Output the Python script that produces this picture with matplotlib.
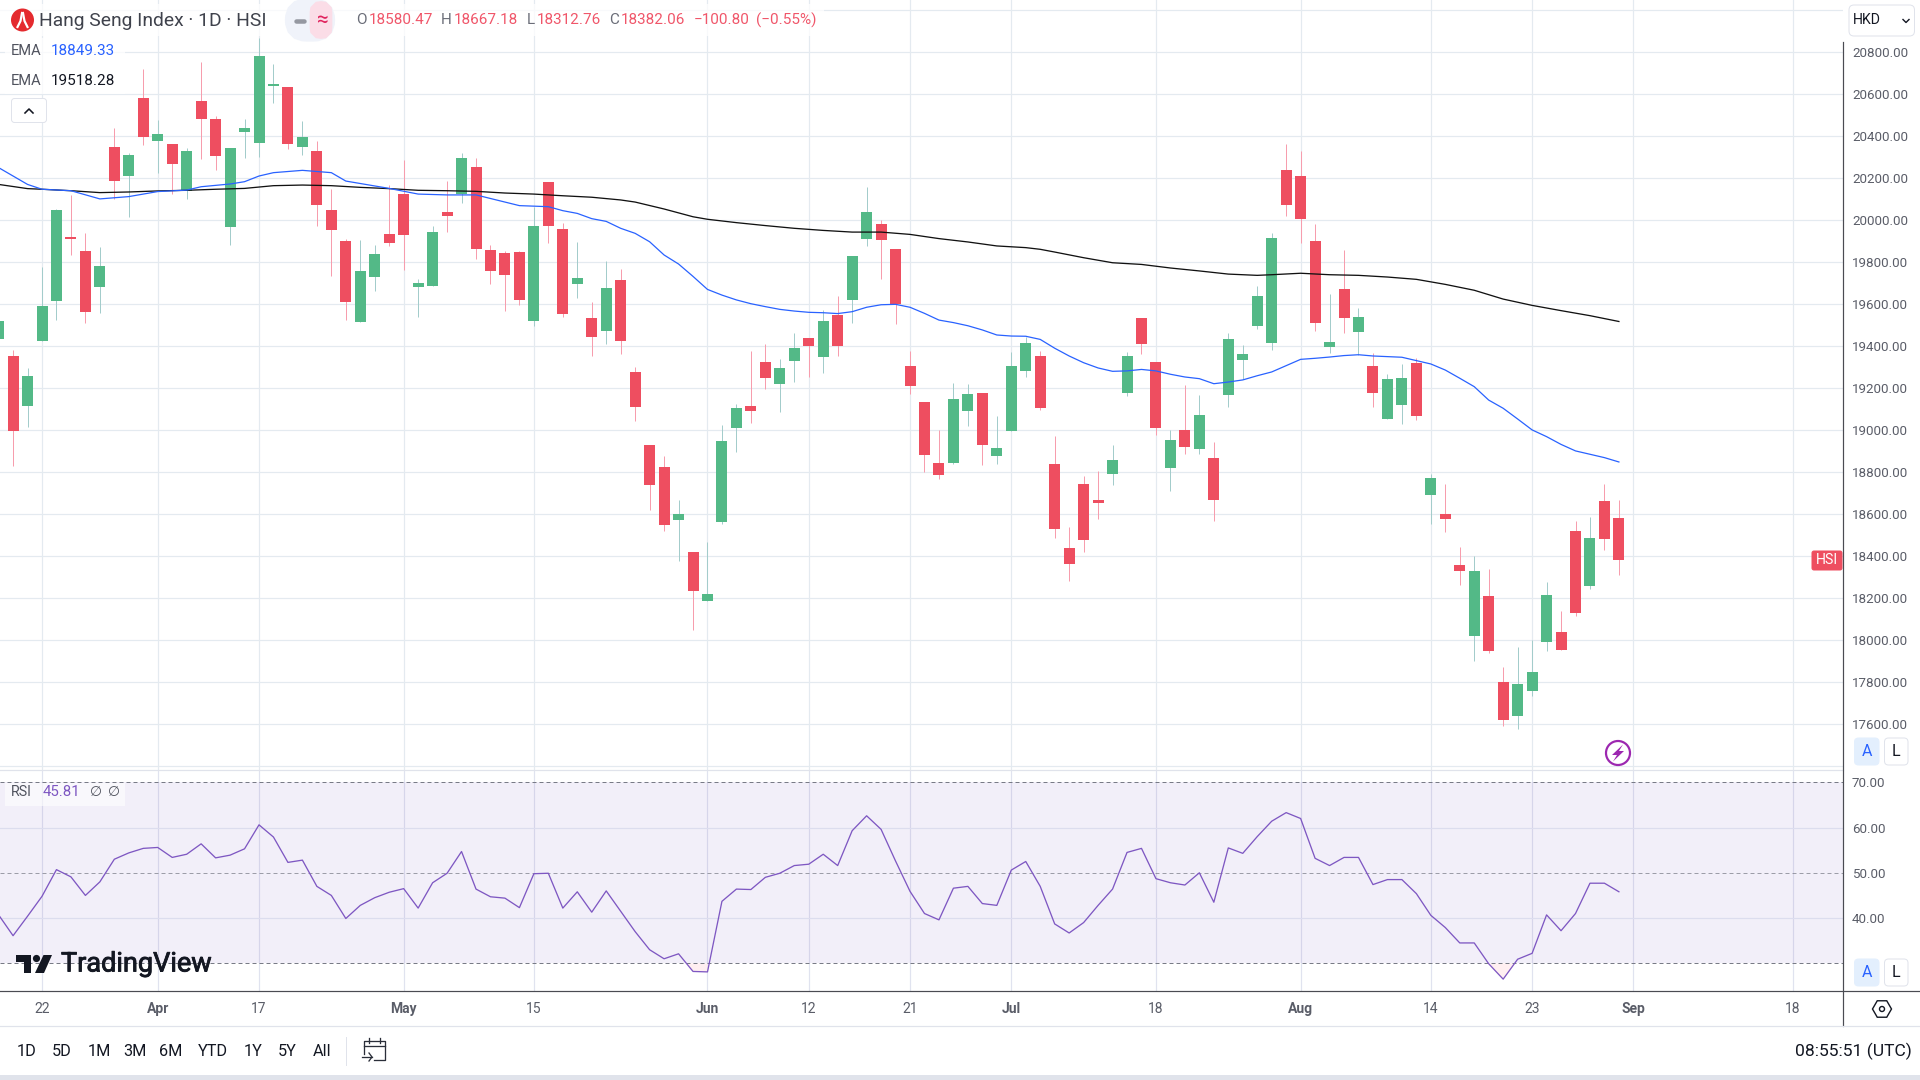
import matplotlib
matplotlib.use("Agg")  # non-interactive backend
import matplotlib.pyplot as plt
import matplotlib.patheffects as pe
import numpy as np
from matplotlib.patches import Rectangle, FancyBboxPatch, Circle, Polygon, RegularPolygon

plt.rcParams["font.family"] = ["Roboto", "DejaVu Sans"]

# ---------------------------------------------------------
# DATA
# ---------------------------------------------------------
first_bar = -3
opens = [19435, 19354, 19116, 19425, 19616, 19921, 19854, 19683, 20349, 20211, 20583, 20378, 20363, 20140, 20568, 20483,
         19967, 20421, 20368, 20640, 20635, 20349, 20330, 20049, 19902, 19516, 19730, 19935, 20125, 19683, 19689, 20040,
         20125, 20254, 19859, 19844, 19849, 19521, 20182, 19959, 19697, 19535, 19473, 19716, 19276, 18930, 18825, 18574,
         18420, 18187, 18563, 19011, 19116, 19325, 19221, 19330, 19440, 19349, 19549, 19621, 19911, 19983, 19863, 19306,
         19135, 18845, 18845, 19092, 19178, 18878, 18997, 19283, 19354, 18840, 18440, 18746, 18670, 18792, 19178, 19535,
         19325, 18821, 19002, 18911, 18868, 19168, 19335, 19497, 19416, 20240, 20211, 19902, 19397, 19673, 19468, 19306,
         19054, 19121, 19321, 18692, 18602, 18359, 18021, 18211, 17802, 17640, 17759, 17992, 18040, 18521, 18259, 18664,
         18580.47]
highs = [19521, 19383, 19297, 19779, 20054, 20121, 19940, 19873, 20440, 20319, 20721, 20478, 20363, 20343, 20754, 20497,
         20344, 20483, 20868, 20744, 20635, 20473, 20378, 20149, 19911, 19906, 19883, 20168, 20287, 19721, 19975, 20187,
         20319, 20297, 19883, 19854, 19854, 20065, 20182, 19987, 19897, 19611, 19806, 19768, 19300, 18930, 18878, 18667,
         18420, 18468, 19025, 19125, 19378, 19411, 19340, 19463, 19440, 19573, 19640, 19830, 20159, 20002, 19863, 19378,
         19135, 19002, 19225, 19221, 19178, 19068, 19373, 19446, 19378, 18973, 18540, 18783, 18806, 18930, 19375, 19535,
         19325, 19002, 19216, 19168, 18944, 19463, 19406, 19687, 19940, 20363, 20330, 19983, 19649, 19859, 19583, 19368,
         19268, 19316, 19344, 18792, 18745, 18444, 18402, 18340, 17873, 17968, 18002, 18278, 18140, 18568, 18587, 18745,
         18667.18]
lows = [19435, 18832, 19016, 19425, 19525, 19835, 19511, 19559, 20103, 20016, 20359, 20225, 20125, 20102, 20292, 20240,
        19881, 20297, 20302, 20559, 20340, 20311, 19973, 19735, 19525, 19516, 19664, 19878, 19763, 19540, 19689, 19944,
        20082, 19816, 19697, 19568, 19597, 19497, 19892, 19540, 19630, 19354, 19411, 19363, 19043, 18621, 18522, 18378,
        18050, 18187, 18553, 18897, 19035, 19197, 19087, 19230, 19254, 19273, 19354, 19511, 19878, 19721, 19506, 19173,
        18802, 18769, 18840, 19021, 18835, 18840, 18997, 19254, 19097, 18486, 18284, 18422, 18578, 18740, 19164, 19363,
        18978, 18712, 18887, 18887, 18569, 19111, 19244, 19483, 19383, 20021, 19892, 19473, 19368, 19464, 19359, 19111,
        19054, 19030, 19049, 18554, 18517, 18263, 17902, 17940, 17592, 17578, 17735, 17949, 17954, 18116, 18244, 18431,
        18312.76]
closes = [19521, 18997, 19259, 19592, 20049, 19911, 19563, 19783, 20187, 20311, 20397, 20411, 20268, 20330, 20483, 20306,
          20344, 20440, 20783, 20649, 20363, 20397, 20073, 19954, 19611, 19759, 19840, 19892, 19930, 19702, 19946, 20021,
          20297, 19863, 19759, 19740, 19620, 19973, 19973, 19554, 19725, 19444, 19678, 19425, 19110, 18740, 18550, 18602,
          18235, 18220, 18949, 19106, 19092, 19249, 19297, 19392, 19402, 19521, 19402, 19830, 20040, 19906, 19602, 19211,
          18884, 18788, 19149, 19173, 18930, 18916, 19306, 19416, 19106, 18530, 18364, 18478, 18656, 18858, 19356, 19411,
          19011, 18954, 18921, 19073, 18667, 19435, 19363, 19640, 19916, 20073, 20006, 19511, 19421, 19535, 19540, 19178,
          19244, 19249, 19068, 18773, 18578, 18330, 18330, 17949, 17621, 17792, 17849, 18216, 17954, 18130, 18487, 18483,
          18382.06]

ema_fast_x = [-3, -1, 0, 2, 4, 6, 8, 10, 11, 13, 14, 15, 16, 18, 20, 21, 24, 26, 28, 30, 33, 35, 36, 37, 38, 39, 40,
              41, 42, 43, 44, 45, 46, 47, 48, 49, 50, 51, 52, 53, 54, 55, 56, 57, 58, 59, 60, 61, 62, 63, 64, 65, 66,
              67, 68, 69, 70, 71, 72, 73, 74, 75, 76, 77, 78, 79, 80, 81, 82, 83, 84, 85, 86, 87, 88, 89, 90, 91, 92,
              93, 94, 95, 96, 97, 98, 99, 100, 101, 102, 103, 104, 105, 106, 107, 108, 109]
ema_fast = [20251, 20171, 20148, 20141, 20102, 20113, 20137, 20144, 20160, 20173, 20184, 20211, 20227, 20238, 20227,
            20187, 20152, 20125, 20121, 20121, 20070, 20065, 20046, 20033, 20008, 19995, 19962, 19938, 19898, 19835,
            19792, 19733, 19671, 19644, 19621, 19603, 19589, 19576, 19568, 19562, 19560, 19556, 19565, 19586, 19598,
            19600, 19586, 19557, 19525, 19513, 19498, 19478, 19454, 19449, 19448, 19433, 19391, 19354, 19322, 19297,
            19281, 19283, 19290, 19283, 19267, 19254, 19246, 19222, 19230, 19240, 19260, 19278, 19308, 19338, 19343,
            19349, 19356, 19360, 19354, 19351, 19348, 19332, 19316, 19287, 19248, 19208, 19144, 19105, 19054, 19002,
            18970, 18933, 18902, 18886, 18870, 18849.33]

ema_slow_x = [-3, -1, 0, 2, 4, 6, 8, 10, 12, 14, 16, 18, 20, 22, 24, 26, 28, 30, 32, 34, 36, 38, 40, 41, 43, 45, 46,
              48, 50, 52, 54, 56, 58, 60, 62, 64, 66, 68, 69, 70, 72, 74, 76, 78, 80, 82, 84, 85, 87, 89, 91, 93, 95,
              97, 99, 101, 103, 105, 107, 109]
ema_slow = [20171, 20151, 20148, 20141, 20132, 20135, 20140, 20143, 20148, 20152, 20165, 20168, 20165, 20157, 20151,
            20143, 20141, 20138, 20130, 20125, 20117, 20110, 20097, 20087, 20054, 20017, 20005, 19989, 19975, 19962,
            19952, 19944, 19944, 19933, 19913, 19897, 19878, 19870, 19862, 19849, 19822, 19798, 19790, 19773, 19759,
            19744, 19738, 19741, 19748, 19741, 19738, 19730, 19719, 19695, 19667, 19625, 19595, 19570, 19546, 19518.28]

rsi = [40.7, 36.1, 40.4, 44.8, 50.7, 49.1, 45.0, 48.0, 53.0, 54.4, 55.4, 55.6, 53.4, 54.1, 56.4, 53.3, 53.9, 55.3, 60.6,
       57.9, 52.3, 52.8, 47.0, 45.0, 39.9, 42.8, 44.5, 45.7, 46.5, 42.2, 47.8, 49.9, 54.7, 46.4, 44.7, 44.4, 42.3, 49.8,
       49.9, 42.2, 45.8, 41.3, 46.0, 41.5, 37.0, 33.0, 31.0, 32.1, 28.2, 28.1, 43.7, 46.4, 46.3, 49.0, 49.9, 51.6, 51.9,
       54.1, 51.6, 59.3, 62.6, 59.6, 52.6, 45.9, 41.0, 39.6, 46.6, 47.0, 43.2, 42.8, 50.6, 52.5, 47.0, 38.7, 36.7, 39.0,
       42.8, 46.4, 54.5, 55.4, 48.7, 47.8, 47.3, 50.0, 43.5, 55.5, 54.3, 58.0, 61.4, 63.3, 62.0, 53.2, 51.6, 53.4, 53.4,
       47.4, 48.5, 48.5, 45.4, 40.6, 37.9, 34.5, 34.5, 29.9, 26.5, 30.9, 32.2, 40.7, 37.2, 41.0, 47.7, 47.7, 45.81]

price_ticks = [17400, 17600, 17800, 18000, 18200, 18400, 18600, 18800, 19000, 19200, 19400, 19600, 19800, 20000, 20200,
               20400, 20600, 20800, 21000]
rsi_ticks = [30, 40, 50, 60, 70]
time_tick_bars = [0, 8, 15, 25, 34, 46, 53, 60, 67, 77, 87, 96, 103, 110, 121]
time_tick_labels = ["22", "Apr", "17", "May", "15", "Jun", "12", "21", "Jul", "18", "Aug", "14", "23", "Sep", "18"]
range_buttons = ["1D", "5D", "1M", "3M", "6M", "YTD", "1Y", "5Y", "All"]

UP = "#53B987"
DOWN = "#EE4E60"
UP_WICK = "#A3CCCB"
DOWN_WICK = "#F79DAD"
GRID = "#E4EAF0"
AXIS_TXT = "#5A5D68"
PURPLE = "#7E57C2"
PX = 0.72  # one pixel in points at dpi 100

W, H = 1920, 1080
AXIS_X = 1843


def to_px_bar(px):
    return (px - 42) / 14.467


def price_at(py):
    return 20800 - (py - 52.33) * 200 / 42.0


def rsi_at(py):
    return 70 - (py - 782.3) / 4.525


fig = plt.figure(figsize=(19.2, 10.8), dpi=100, facecolor="white")

# ---------------------------------------------------------
# PRICE PANE
# ---------------------------------------------------------
ax = fig.add_axes([0, (H - 770) / H, AXIS_X / W, 770 / H])
bars = np.arange(first_bar, first_bar + len(opens))
o = np.array(opens)
c = np.array(closes)
is_up = c >= o
ax.vlines(bars, lows, highs, colors=[UP_WICK if u else DOWN_WICK for u in is_up], linewidth=1 * PX, zorder=3)
ax.bar(bars, np.abs(c - o), bottom=np.minimum(o, c), width=11 / 14.467,
       color=[UP if u else DOWN for u in is_up], linewidth=0, zorder=4)
ax.plot(ema_slow_x, ema_slow, color="#111111", linewidth=1.3 * PX, zorder=5)
ax.plot(ema_fast_x, ema_fast, color="#2962FF", linewidth=1.25 * PX, zorder=5)

ax.set_xlim(to_px_bar(0), to_px_bar(AXIS_X))
ax.set_ylim(price_at(770), price_at(0))
ax.set_xticks(time_tick_bars)
ax.set_xticklabels([])
ax.yaxis.tick_right()
ax.set_yticks(price_ticks)
ax.set_yticklabels(["" if p in (17400, 21000) else f"{p:.2f}" for p in price_ticks], fontsize=9.6, color=AXIS_TXT)
ax.tick_params(length=0)
ax.tick_params(axis="y", pad=6.5)
ax.grid(True, color=GRID, linewidth=1.2 * PX, zorder=0)
ax.set_axisbelow(True)
for s in ax.spines.values():
    s.set_visible(False)

# ---------------------------------------------------------
# RSI PANE
# ---------------------------------------------------------
ax2 = fig.add_axes([0, (H - 991) / H, AXIS_X / W, (991 - 770) / H])
ax2.axhspan(30, 70, color=PURPLE, alpha=0.095, linewidth=0, zorder=1)
ax2.plot(bars, rsi, color=PURPLE, linewidth=1.3 * PX, zorder=5)
ax2.fill_between(bars, rsi, 30, where=np.array(rsi) < 30, interpolate=True, color="#FFE9EC", alpha=0.7,
                 linewidth=0, zorder=2)
for level, alpha in ((70, 1), (50, 0.7), (30, 1)):
    ax2.axhline(level, color="#787B86", alpha=alpha, linewidth=1 * PX, linestyle=(0, (4, 3)), zorder=3)
for level in (40, 60):
    ax2.axhline(level, color="#DCDDEE", linewidth=1.2 * PX, zorder=2)

ax2.set_xlim(to_px_bar(0), to_px_bar(AXIS_X))
ax2.set_ylim(rsi_at(991), rsi_at(770))
ax2.set_xticks(time_tick_bars)
ax2.set_xticklabels(time_tick_labels, fontsize=10, color=AXIS_TXT)
for lab, name in zip(ax2.get_xticklabels(), time_tick_labels):
    if not name.isdigit():
        lab.set_fontweight("bold")
ax2.yaxis.tick_right()
ax2.set_yticks(rsi_ticks)
ax2.set_yticklabels(["" if r == 30 else f"{r:.2f}" for r in rsi_ticks], fontsize=9.6, color=AXIS_TXT)
ax2.tick_params(length=0)
ax2.tick_params(axis="y", pad=6.5)
ax2.tick_params(axis="x", pad=8)
ax2.grid(True, axis="x", color="#E0E3EF", linewidth=1.2 * PX, zorder=0)
ax2.set_axisbelow(True)
for s in ax2.spines.values():
    s.set_visible(False)

# ---------------------------------------------------------
# WIDGET CHROME, in screen pixels
# ---------------------------------------------------------
ui = fig.add_axes([0, 0, 1, 1], zorder=5)
ui.set_xlim(0, W)
ui.set_ylim(H, 0)
ui.axis("off")
ui.patch.set_alpha(0)


def label(x, y, s, size=11, color="#131722", ha="left", **kw):
    return ui.text(x, y, s, fontsize=size, color=color, ha=ha, va="center", **kw)


def button(x0, y0, x1, y1, face, edge, rad=4):
    ui.add_patch(FancyBboxPatch((x0 + rad, y0 + rad), x1 - x0 - 2 * rad, y1 - y0 - 2 * rad,
                                boxstyle=f"round,pad={rad},rounding_size={rad}",
                                facecolor=face, edgecolor=edge, linewidth=1 * PX))


# axis lines
ui.plot([0, AXIS_X], [770, 770], color="#E0E3EB", linewidth=1.2 * PX)
ui.plot([0, W], [991, 991], color="#4A4B52", linewidth=1.2 * PX)
ui.plot([AXIS_X, AXIS_X], [42, 1026], color="#4A4B52", linewidth=1.2 * PX)
ui.plot([0, W], [1026, 1026], color="#E0E3EB", linewidth=1.2 * PX)
ui.add_patch(Rectangle((0, 1075), W, 5, facecolor="#E0E3EB", edgecolor="none"))

# header
ui.add_patch(Rectangle((0, 4), 824, 32, facecolor="white", edgecolor="none", alpha=0.75))
ui.add_patch(Circle((22.5, 20), 11.5, facecolor="#E42A2E", edgecolor="none"))
ui.plot([22, 20.5, 17.5], [13, 21, 27], color="white", linewidth=2.2 * PX)
ui.plot([23, 24.5, 27.5], [13, 21, 27], color="white", linewidth=2.2 * PX)
label(39, 20.5, "Hang Seng Index · 1D · HSI", size=13.9, color="#3F424C")
ui.add_patch(FancyBboxPatch((296, 9.5), 28, 21, boxstyle="round,pad=0,rounding_size=10.5",
                            facecolor="#F0F3FA", edgecolor="#F0F3FA", linewidth=16))
ui.add_patch(Rectangle((310, 9), 15, 22, facecolor="#FBDDE7", edgecolor="none"))
ui.add_patch(FancyBboxPatch((318, 9.5), 6, 21, boxstyle="round,pad=0,rounding_size=3",
                            facecolor="#FBDDE7", edgecolor="#FBDDE7", linewidth=12))
ui.plot([296, 304], [20.5, 20.5], color="#9598A1", linewidth=4.5 * PX, solid_capstyle="round")
label(322, 20.5, "≈", size=15, color="#E0245E", ha="center")

HDR_GRAY = "#6A6D78"
HDR_RED = "#F0566A"
for x, s, col in [(356, "O", HDR_GRAY), (369, "18580.47", HDR_RED), (441, "H", HDR_GRAY), (454, "18667.18", HDR_RED),
                  (527, "L", HDR_GRAY), (537, "18312.76", HDR_RED), (609, "C", HDR_GRAY), (621, "18382.06", HDR_RED),
                  (694, "−100.80", HDR_RED), (756, "(−0.55%)", HDR_RED)]:
    label(x, 20.5, s, size=11, color=col)

# EMA legend
ui.add_patch(Rectangle((5, 38), 120, 56, facecolor="white", edgecolor="none", alpha=0.75))
label(11, 50.7, "EMA", size=10.5, color="#50535E")
label(51, 50.7, "18849.33", size=11, color="#2962FF")
label(11, 80.7, "EMA", size=10.5, color="#50535E")
label(51, 80.7, "19518.28", size=11, color="#131722")
button(11.5, 98.5, 46.5, 122.5, "white", "#E0E3EB", rad=3)
ui.plot([25, 29, 33], [113, 109, 113], color="#131722", linewidth=1.6 * PX)

# currency box
button(1849, 5, 1914.5, 36, "white", "#E0E3EB", rad=5)
label(1853, 20.5, "HKD", size=10.2, color="#131722")
ui.plot([1903, 1906, 1909], [19.5, 22.5, 19.5], color="#131722", linewidth=1.4 * PX)

# last price tag
button(1812, 551, 1842, 570, DOWN, DOWN, rad=2)
label(1827, 560.5, "HSI", size=10.2, color="white", ha="center")

# lightning marker
ui.add_patch(Circle((1618, 753), 12, facecolor="white", edgecolor="#9C27B0", linewidth=2.2 * PX))
ui.add_patch(Polygon([(1623, 744.5), (1612, 755), (1617, 755), (1613, 761.5), (1624, 751), (1619, 751)],
                     closed=True, facecolor="#9C27B0", edgecolor="none"))

# auto / log buttons
for top, bottom in ((738, 765), (959, 986)):
    button(1854.5, top, 1879, bottom, "#E3EFFD", "#E3EFFD", rad=4)
    label(1866.7, (top + bottom) / 2, "A", size=11.5, color="#2962FF", ha="center")
    button(1884.5, top, 1908, bottom, "white", "#E0E3EB", rad=4)
    label(1896.3, (top + bottom) / 2, "L", size=11.5, color="#131722", ha="center")

# RSI legend
ui.add_patch(Rectangle((5, 783), 120, 23, facecolor="white", edgecolor="none", alpha=0.6))
label(11, 792, "RSI", size=10.3, color="#50535E")
label(43, 792, "45.81", size=10.8, color=PURPLE)
label(90, 792, "∅", size=10, color="#50535E")
label(108, 792, "∅", size=10, color="#50535E")

# TradingView mark
ink = "#131722"
ui.add_patch(Polygon([(15.5, 955), (31, 955), (31, 973), (23.5, 973), (23.5, 961.5), (15.5, 961.5)], closed=True,
                     facecolor=ink, edgecolor="none"))
ui.add_patch(Circle((36.5, 958.5), 3.6, facecolor=ink, edgecolor="none"))
ui.add_patch(Polygon([(43.5, 955), (52, 955), (44, 973), (35, 973)], closed=True, facecolor=ink, edgecolor="none"))
brand = label(61, 964, "TradingView", size=19.5, color=ink)
brand.set_path_effects([pe.withStroke(linewidth=0.6, foreground=ink)])

# settings icon
ui.add_patch(RegularPolygon((1882, 1009), 6, radius=9.5, orientation=np.pi / 6, facecolor="none", edgecolor="#131722",
                            linewidth=1.4 * PX))
ui.add_patch(Circle((1882, 1009), 2.5, facecolor="none", edgecolor="#131722", linewidth=1.4 * PX))

# bottom toolbar
for x, s in zip([27, 62, 99, 135, 171, 213, 253, 287, 322], range_buttons):
    label(x, 1051, s, size=11.7, color="#131722", ha="center")
ui.plot([346, 346], [1037, 1065], color="#E0E3EB", linewidth=1 * PX)
ui.plot([364, 364, 385, 385, 374], [1054, 1041, 1041, 1060, 1060], color="#2A2E39", linewidth=1.3 * PX)
ui.plot([364, 385], [1046, 1046], color="#2A2E39", linewidth=1.3 * PX)
ui.plot([369, 369], [1038, 1043], color="#2A2E39", linewidth=1.3 * PX)
ui.plot([380, 380], [1038, 1043], color="#2A2E39", linewidth=1.3 * PX)
ui.plot([362, 372], [1057, 1057], color="#2A2E39", linewidth=1.3 * PX)
ui.plot([369, 372, 369], [1053, 1057, 1061], color="#2A2E39", linewidth=1.3 * PX)
label(1912, 1051, "08:55:51 (UTC)", size=12.6, color="#131722", ha="right")

fig.savefig("out.png", dpi=100)
plt.close(fig)
